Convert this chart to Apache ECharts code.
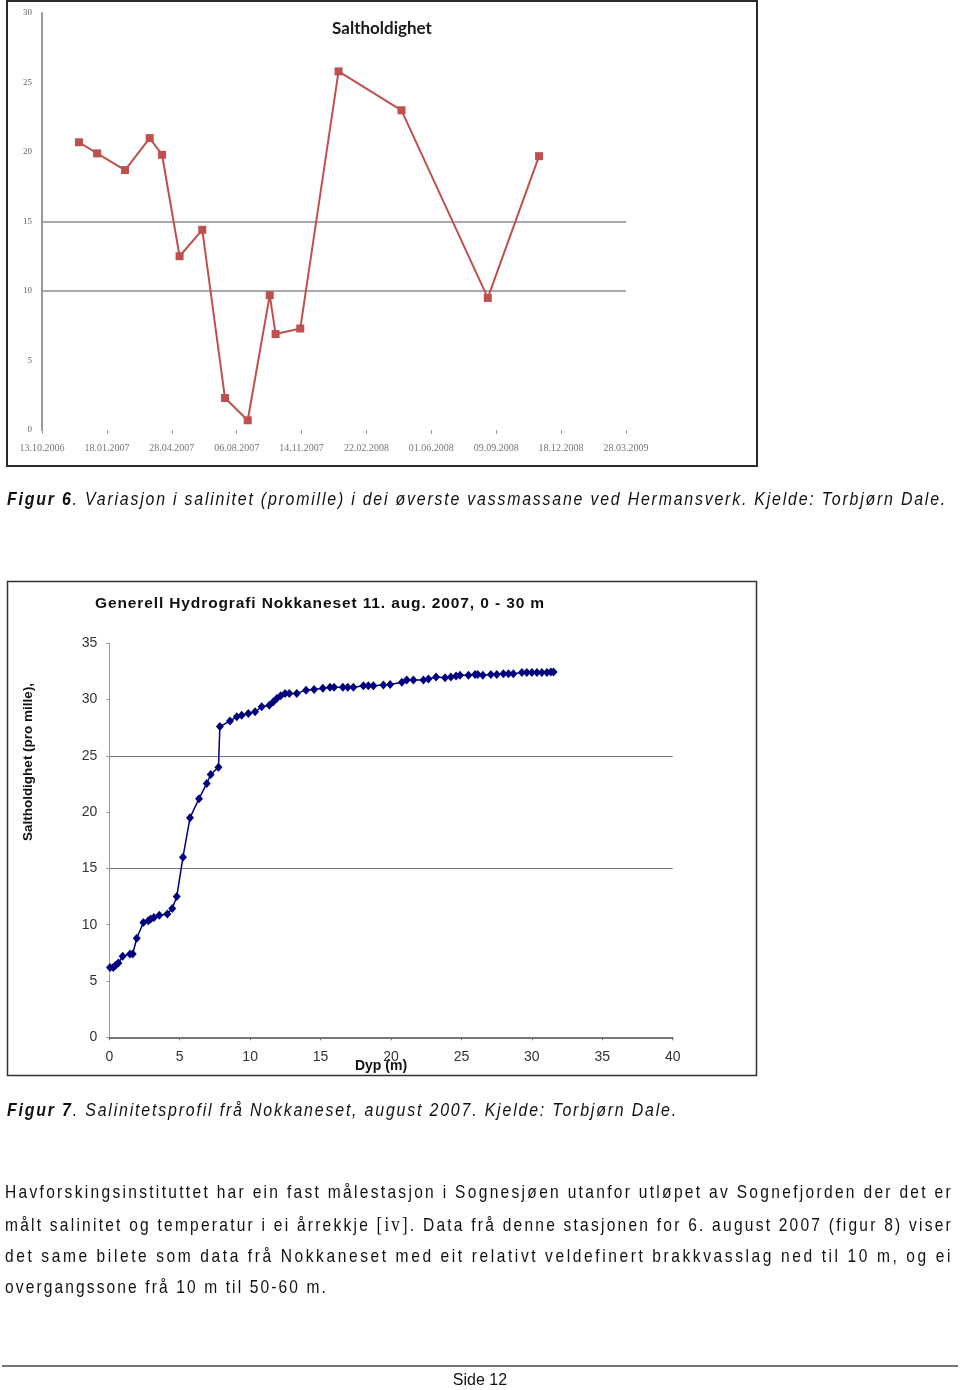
<!DOCTYPE html>
<html>
<head>
<meta charset="utf-8">
<script src="https://cdn.jsdelivr.net/npm/echarts@6/dist/echarts.min.js"></script>
<style>
  html,body{margin:0;padding:0;background:#fff;}
  body{width:960px;height:1390px;position:relative;overflow:hidden;font-family:"Liberation Sans",Arial,sans-serif;color:#111;}
  #chart{position:absolute;left:0;top:0;width:960px;height:1390px;}
  .t{position:absolute;white-space:nowrap;font-size:18.5px;line-height:22px;}
  .p{font-size:18.5px;}
  .fit{display:inline-block;transform-origin:0 50%;}
  .cap{font-style:italic;}
  .serif{font-family:"Liberation Serif",serif;font-size:20px;}
  .ttl{font-weight:bold;font-size:15.5px;color:#111;}
</style>
</head>
<body>
<div id="chart"></div>

<div class="t ttl" style="left:95px;top:592px;"><span class="fit" data-w="450" data-s="1">Generell Hydrografi Nokkaneset 11. aug. 2007, 0 - 30 m</span></div>

<div class="t cap" style="left:7px;top:488px;"><span class="fit" data-w="940" data-s="0.86"><b>Figur 6</b>. Variasjon i salinitet (promille) i dei øverste vassmassane ved Hermansverk. Kjelde: Torbjørn Dale.</span></div>
<div class="t cap" style="left:7px;top:1099px;"><span class="fit" data-w="671" data-s="0.86"><b>Figur 7</b>. Salinitetsprofil frå Nokkaneset, august 2007. Kjelde: Torbjørn Dale.</span></div>

<div class="t p" style="left:5px;top:1181px;"><span class="fit" data-w="948" data-s="0.84">Havforskingsinstituttet har ein fast målestasjon i Sognesjøen utanfor utløpet av Sognefjorden der det er</span></div>
<div class="t p" style="left:5px;top:1213px;"><span class="fit" data-w="948" data-s="0.84">målt salinitet og temperatur i ei årrekkje <span class="serif">[iv]</span>. Data frå denne stasjonen for 6. august 2007 (figur 8) viser</span></div>
<div class="t p" style="left:5px;top:1245px;"><span class="fit" data-w="948" data-s="0.84">det same bilete som data frå Nokkaneset med eit relativt veldefinert brakkvasslag ned til 10 m, og ei</span></div>
<div class="t p" style="left:5px;top:1276px;"><span class="fit" data-w="323" data-s="0.84">overgangssone frå 10 m til 50-60 m.</span></div>

<div class="t" style="left:0;width:960px;text-align:center;top:1369px;font-size:16px;">Side 12</div>

<script>
// ---------- Figur 6: Saltholdighet (Hermansverk) ----------
const axisStart = "2006-10-10";
const xTickLabels = ["13.10.2006","18.01.2007","28.04.2007","06.08.2007","14.11.2007","22.02.2008","01.06.2008","09.09.2008","18.12.2008","28.03.2009"];
const yTickLabels1 = ["0","5","10","15","20","25","30"];
const sampleDates = ["2006-12-06","2007-01-03","2007-02-15","2007-03-25","2007-04-13","2007-05-10","2007-06-14","2007-07-19","2007-08-23","2007-09-26","2007-10-05","2007-11-12","2008-01-10","2008-04-16","2008-08-27","2008-11-14"];
const salinity1 = [20.7,19.9,18.7,21.0,19.8,12.5,14.4,2.3,0.7,9.7,6.9,7.3,25.8,23.0,9.5,19.7];

// ---------- Figur 7: Nokkaneset 11. aug. 2007 ----------
const depth2 = [0.05,0.28,0.45,0.64,0.95,1.47,1.66,1.95,2.42,2.77,2.94,3.17,3.55,4.12,4.47,4.79,5.23,5.73,6.37,6.92,7.2,7.75,7.85,8.57,9.05,9.4,9.87,10.35,10.82,11.36,11.65,11.89,12.17,12.48,12.78,13.31,13.97,14.54,15.16,15.67,15.96,16.58,16.93,17.33,18.04,18.39,18.75,19.46,19.94,20.77,21.12,21.59,22.3,22.66,23.2,23.84,24.25,24.62,24.9,25.5,25.97,26.16,26.52,27.09,27.51,27.98,28.34,28.69,29.29,29.64,30.0,30.36,30.71,31.07,31.35,31.54];
const salinity2 = [6.2,6.2,6.4,6.6,7.2,7.4,7.4,8.8,10.2,10.35,10.5,10.65,10.85,10.95,11.45,12.5,16.0,19.5,21.2,22.55,23.35,24.0,27.6,28.1,28.47,28.6,28.77,28.92,29.36,29.5,29.8,30.1,30.34,30.55,30.55,30.55,30.84,30.9,31.0,31.1,31.1,31.1,31.1,31.1,31.23,31.23,31.23,31.29,31.35,31.53,31.73,31.73,31.73,31.82,32.0,31.94,32.0,32.09,32.17,32.17,32.23,32.23,32.17,32.23,32.23,32.3,32.3,32.3,32.4,32.4,32.4,32.4,32.4,32.4,32.45,32.45];

const title1 = "Saltholdighet";
const yName2 = "Saltholdighet (pro mille),";
const xName2 = "Dyp (m)";

function daysSince(d){
  const p = d.split("-").map(Number), s = axisStart.split("-").map(Number);
  return (Date.UTC(p[0],p[1]-1,p[2]) - Date.UTC(s[0],s[1]-1,s[2]))/86400000;
}
const T = 'rgba(0,0,0,0)';
const chart = echarts.init(document.getElementById('chart'), null, {renderer:'canvas'});
chart.setOption({
  animation:false,
  backgroundColor:'#fff',
  grid:[
    {left:42, top:13, width:584, height:417},
    {left:109.3, top:643.3, width:563.4, height:394}
  ],
  xAxis:[
    {gridIndex:0, type:'value', min:0, max:900, interval:100,
     axisLine:{show:false}, axisTick:{show:true, length:4, lineStyle:{color:'#9a9a9a'}},
     splitLine:{show:false},
     axisLabel:{formatter:v=>xTickLabels[Math.round(v/100)], fontSize:10, color:'#777', margin:13, fontFamily:'Liberation Serif'}},
    {gridIndex:1, type:'value', min:0, max:40, interval:5,
     axisLine:{show:true, lineStyle:{color:'#777', width:2}},
     axisTick:{show:true, length:3, lineStyle:{color:'#777'}},
     splitLine:{show:false},
     axisLabel:{fontSize:14, color:'#333', margin:13, fontFamily:'Liberation Sans'}}
  ],
  yAxis:[
    {gridIndex:0, type:'value', min:0, max:30, interval:5,
     axisLine:{show:true, lineStyle:{color:'#999', width:2}},
     axisTick:{show:false},
     splitLine:{show:true, lineStyle:{color:[T,T,'#8c8c8c','#8c8c8c',T,T,T], width:1.5}},
     axisLabel:{formatter:v=>yTickLabels1[Math.round(v/5)], fontSize:9, color:'#666', margin:10, fontFamily:'Liberation Serif'}},
    {gridIndex:1, type:'value', min:0, max:35, interval:5,
     axisLine:{show:true, lineStyle:{color:'#999', width:1}},
     axisTick:{show:true, length:3, lineStyle:{color:'#999'}},
     splitLine:{show:true, lineStyle:{color:[T,T,T,'#777',T,'#777',T,T], width:1}},
     axisLabel:{fontSize:14, color:'#333', margin:12, fontFamily:'Liberation Sans'}}
  ],
  series:[
    {type:'line', xAxisIndex:0, yAxisIndex:0,
     data: sampleDates.map((d,i)=>[daysSince(d), salinity1[i]]),
     symbol:'rect', symbolSize:8,
     itemStyle:{color:'#C0504D'}, lineStyle:{color:'#C0504D', width:2}},
    {type:'line', xAxisIndex:1, yAxisIndex:1,
     data: depth2.map((d,i)=>[d, salinity2[i]]),
     symbol:'diamond', symbolSize:[8,9],
     itemStyle:{color:'#00007f'}, lineStyle:{color:'#00007f', width:1.5}}
  ],
  graphic:[
    {type:'rect', shape:{x:7, y:1, width:750, height:465}, style:{fill:'none', stroke:'#2a2a2a', lineWidth:2}},
    {type:'rect', shape:{x:7.5, y:581.5, width:749, height:494}, style:{fill:'none', stroke:'#333', lineWidth:1.5}},
    {type:'text', x:382, y:29, style:{text:title1, font:'bold 17px Lato, "Liberation Sans", sans-serif', fill:'#1a1a1a', textAlign:'center', textVerticalAlign:'middle'}},
    {type:'text', x:28, y:762, rotation:Math.PI/2, style:{text:yName2, font:'bold 13.5px "Liberation Sans", Arial, sans-serif', fill:'#111', textAlign:'center', textVerticalAlign:'middle'}},
    {type:'text', x:381, y:1066, style:{text:xName2, font:'bold 14px "Liberation Sans", Arial, sans-serif', fill:'#111', textAlign:'center', textVerticalAlign:'middle'}},
    {type:'line', shape:{x1:2, y1:1366, x2:958, y2:1366}, style:{stroke:'#444', lineWidth:1.5}}
  ]
});

// fit text widths (condense horizontally, then adjust spacing to the target width)
document.querySelectorAll('.fit').forEach(el=>{
  const w = +el.dataset.w, s = +(el.dataset.s || 1);
  el.style.letterSpacing = '0px';
  el.style.transform = 'none';
  const nat = el.getBoundingClientRect().width;
  const n = el.textContent.length;
  el.style.letterSpacing = ((w / s - nat) / n) + 'px';
  if (s !== 1) el.style.transform = 'scaleX(' + s + ')';
});
</script>
</body>
</html>
